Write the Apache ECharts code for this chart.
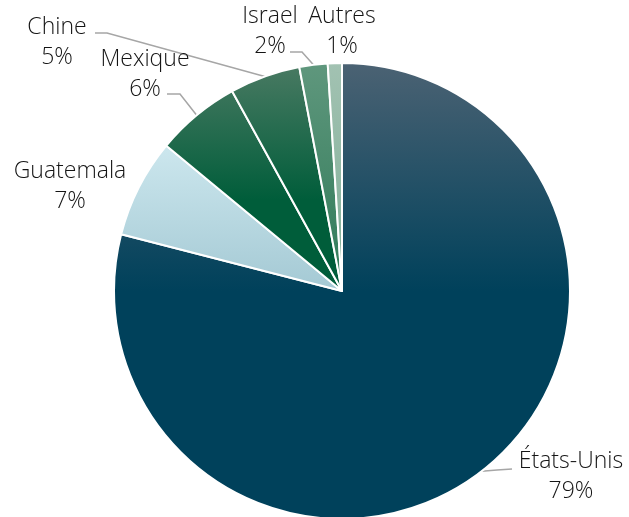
<!DOCTYPE html>
<html>
<head>
<meta charset="utf-8">
<script src="https://cdn.jsdelivr.net/npm/echarts@6/dist/echarts.min.js"></script>
<style>
  html, body { margin: 0; padding: 0; background: #fff; }
  #chart { width: 629px; height: 517px; }
</style>
</head>
<body>
<div id="chart"></div>
<script>
// Origine des importations (part en %)
const pays = ['États-Unis', 'Guatemala', 'Mexique', 'Chine', 'Israel', 'Autres'];
const parts = [79, 7, 6, 5, 2, 1];

// Mise en page des étiquettes : centre du bloc de texte, puis coude et
// point d'attache du trait de rappel (null = pas de trait)
const labelAnchors = {
  'États-Unis': { pos: [571, 476], knee: [497, 470], attach: [512, 469] },
  'Guatemala': { pos: [70, 186], knee: null, attach: null },
  'Mexique': { pos: [145, 74], knee: [180, 94], attach: [167, 94] },
  'Chine': { pos: [57, 42], knee: [107, 33], attach: [95, 33] },
  'Israel': { pos: [270, 31], knee: [302, 52], attach: [290, 52] },
  'Autres': { pos: [342, 31], knee: null, attach: null }
};

const CX = 342, CY = 291, R = 228;

function grad(top, bottom, y0, y1) {
  return {
    type: 'linear', x: 0, y: y0, x2: 0, y2: y1, global: true,
    colorStops: [{ offset: 0, color: top }, { offset: 1, color: bottom }]
  };
}

const fills = {
  'États-Unis': grad('#4b6273', '#00415b', CY - R, CY),
  'Guatemala': grad('#cbe6ed', '#a4c9d4', 150, CY),
  'Mexique': grad('#4a7a63', '#005d3a', 63, 200),
  'Chine': grad('#4a7a63', '#005d3a', 63, 200),
  'Israel': grad('#5f977d', '#2f7a58', 63, 291),
  'Autres': grad('#a2c2b2', '#7fae96', 63, 291)
};

const chart = echarts.init(document.getElementById('chart'), null, { renderer: 'canvas' });

chart.setOption({
  animation: false,
  series: [{
    type: 'pie',
    center: [CX, CY],
    radius: [0, R],
    startAngle: 90,
    clockwise: true,
    data: pays.map((p, i) => ({
      name: p,
      value: parts[i],
      itemStyle: { color: fills[p] },
      labelLine: { show: !!labelAnchors[p].attach }
    })),
    itemStyle: { borderColor: '#ffffff', borderWidth: 2 },
    label: {
      show: true,
      position: 'outside',
      formatter: p => p.name + '\n' + p.value + '%',
      fontFamily: 'Open Sans',
      fontWeight: 300,
      fontSize: 23,
      lineHeight: 30,
      color: '#141414',
      align: 'center',
      overflow: 'none',
      width: 160
    },
    labelLine: {
      show: true,
      length: 12,
      length2: 12,
      lineStyle: { color: '#a6a6a6', width: 1.5 }
    },
    labelLayout: params => {
      const a = labelAnchors[pays[params.dataIndex]];
      const out = { x: a.pos[0], y: a.pos[1], align: 'center', verticalAlign: 'middle' };
      if (a.attach && params.labelLinePoints) {
        out.labelLinePoints = [params.labelLinePoints[0], a.knee, a.attach];
      }
      return out;
    }
  }]
});
</script>
</body>
</html>
